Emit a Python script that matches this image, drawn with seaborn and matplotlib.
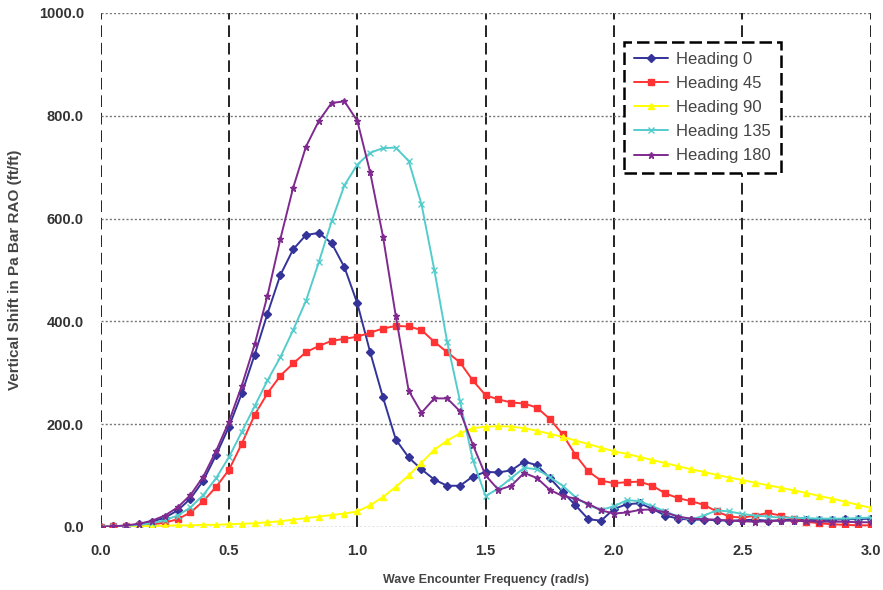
import numpy as np
import pandas as pd
import matplotlib
matplotlib.use("Agg")
import matplotlib.pyplot as plt
import seaborn as sns

# ---- data ----
freq = [round(0.05 * i, 2) for i in range(61)]

heading_0 = [0, 1, 2, 5, 10, 18, 32, 55, 90, 140,
             195, 260, 335, 415, 490, 540, 568, 572, 552, 505,
             435, 340, 252, 170, 135, 112, 92, 80, 80, 98,
             107, 106, 110, 127, 120, 95, 68, 42, 15, 12,
             35, 44, 46, 35, 22, 16, 14, 14, 13, 12,
             13, 14, 12, 13, 14, 14, 13, 14, 15, 15, 16]

heading_45 = [0, 1, 2, 3, 5, 8, 15, 28, 50, 78,
              111, 162, 218, 260, 294, 318, 340, 352, 362, 366,
              370, 378, 386, 391, 390, 383, 360, 340, 320, 285,
              256, 248, 242, 240, 232, 210, 180, 140, 108, 90,
              85, 87, 88, 80, 65, 56, 50, 43, 30, 20,
              18, 22, 27, 22, 15, 10, 7, 5, 4, 3, 3]

heading_90 = [0, 0, 1, 1, 2, 2, 3, 3, 4, 4,
              5, 6, 7, 9, 11, 14, 17, 20, 23, 26,
              30, 42, 58, 78, 100, 125, 150, 168, 182, 192,
              195, 196, 195, 192, 187, 181, 175, 168, 161, 154,
              147, 142, 136, 130, 124, 118, 112, 107, 101, 96,
              91, 86, 81, 76, 71, 66, 60, 55, 49, 43, 37]

heading_135 = [0, 1, 2, 4, 7, 13, 22, 38, 62, 95,
               136, 185, 235, 285, 330, 383, 440, 515, 595, 665,
               705, 728, 737, 738, 712, 628, 500, 360, 245, 130,
               60, 75, 95, 115, 112, 97, 80, 58, 42, 33,
               40, 52, 50, 40, 30, 20, 14, 22, 32, 30,
               25, 22, 20, 18, 18, 17, 16, 16, 16, 17, 18]

heading_180 = [0, 1, 3, 6, 12, 22, 38, 62, 98, 148,
               205, 275, 355, 450, 560, 660, 740, 790, 825, 828,
               790, 690, 565, 410, 265, 222, 250, 250, 225, 160,
               100, 72, 80, 105, 95, 72, 60, 55, 45, 32,
               26, 28, 33, 34, 28, 20, 16, 15, 14, 12,
               11, 10, 11, 12, 12, 11, 10, 10, 10, 9, 9]

series_names = ["Heading 0", "Heading 45", "Heading 90", "Heading 135", "Heading 180"]
series_values = [heading_0, heading_45, heading_90, heading_135, heading_180]

x_ticks = [0.0, 0.5, 1.0, 1.5, 2.0, 2.5, 3.0]
y_ticks = [0, 200, 400, 600, 800, 1000]

colors = ["#333399", "#ff3333", "#ffff00", "#55cccc", "#7f2a8f"]
marker_list = ["D", "s", "^", "x", "*"]

sns.set_theme(style="white")
plt.rcParams["font.family"] = ["Liberation Sans", "DejaVu Sans"]

fig = plt.figure(figsize=(8.83, 5.90), dpi=100)
ax = fig.add_axes([0.114, 0.107, 0.872, 0.871])

for name, vals, col, mk in zip(series_names, series_values, colors, marker_list):
    d = pd.DataFrame({"freq": freq, "value": vals})
    sns.lineplot(data=d, x="freq", y="value", color=col, marker=mk,
                 markersize=4.5, linewidth=1.4, markeredgewidth=1.0,
                 markeredgecolor=col, label=name, ax=ax, sort=False)

ax.set_xlim(0, 3.0)
ax.set_ylim(0, 1000)
ax.set_xticks(x_ticks)
ax.set_yticks(y_ticks)
ax.set_xticklabels([f"{t:.1f}" for t in x_ticks], fontweight="bold", fontsize=10.5, color="#333333")
ax.set_yticklabels([f"{t:.1f}" for t in y_ticks], fontweight="bold", fontsize=10.5, color="#333333")
ax.tick_params(axis="both", length=4, color="#555555", pad=8)

for s in ax.spines.values():
    s.set_visible(False)

ax.set_axisbelow(True)
ax.xaxis.grid(True, color="#222222", linestyle=(0, (6, 3)), linewidth=1.4)
ax.yaxis.grid(True, color="#777777", linestyle=(0, (1.5, 1.5)), linewidth=1.0)

ax.set_xlabel("Wave Encounter Frequency (rad/s)", fontweight="bold", fontsize=9, color="#444444", labelpad=12)
ax.set_ylabel("Vertical Shift in Pa Bar RAO (ft/ft)", fontweight="bold", fontsize=11, color="#444444", labelpad=12)

handles, labels = ax.get_legend_handles_labels()
if ax.get_legend() is not None:
    ax.get_legend().remove()
leg = ax.legend(handles, labels, loc="upper left", bbox_to_anchor=(0.680, 0.944),
                borderaxespad=0.0, frameon=True, fancybox=False, fontsize=12,
                labelspacing=0.55, handlelength=2.0, handletextpad=0.5,
                borderpad=0.6, framealpha=1.0)
frame = leg.get_frame()
frame.set_edgecolor("black")
frame.set_linewidth(1.8)
frame.set_linestyle((0, (5, 2)))
for t in leg.get_texts():
    t.set_color("#444444")

fig.savefig("out.png", dpi=100)
